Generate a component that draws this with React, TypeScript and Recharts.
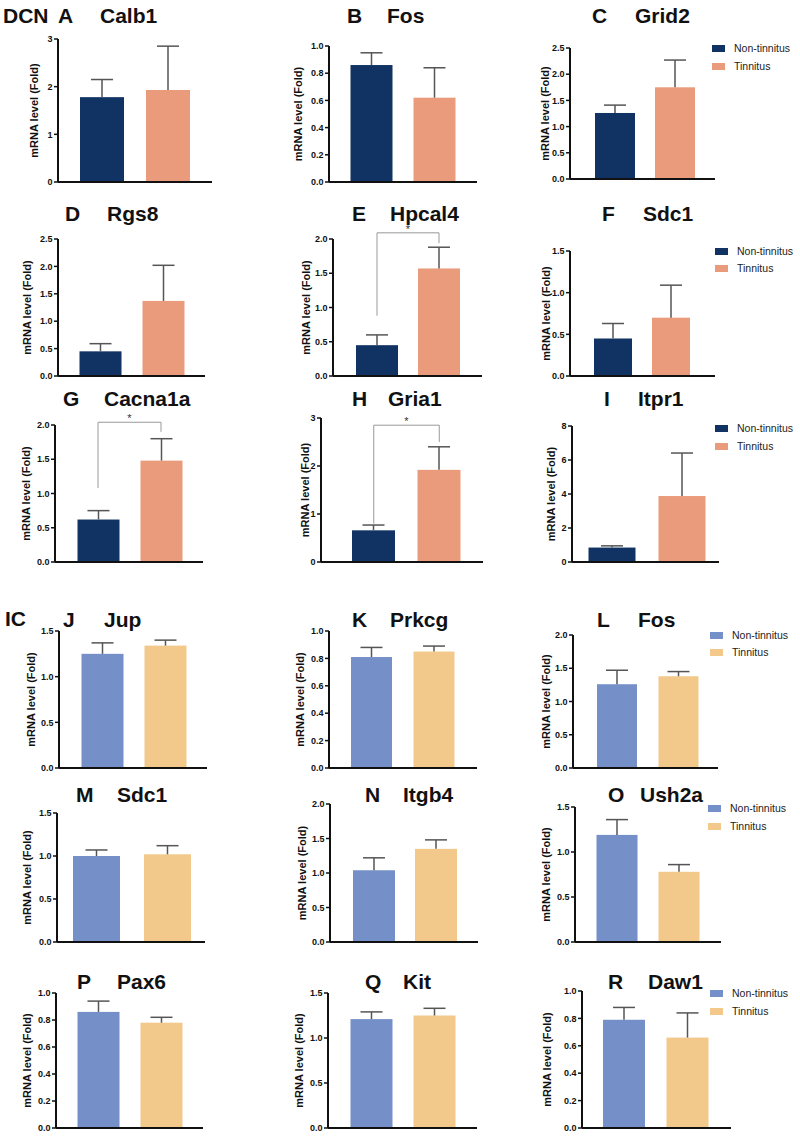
import React from 'react';
import { BarChart, Bar, XAxis, YAxis, Cell, ReferenceLine } from 'recharts';

const groups = ['Non-tinnitus', 'Tinnitus'];
const letters = ['A', 'B', 'C', 'D', 'E', 'F', 'G', 'H', 'I', 'J', 'K', 'L', 'M', 'N', 'O', 'P', 'Q', 'R'];
const genes = ['Calb1', 'Fos', 'Grid2', 'Rgs8', 'Hpcal4', 'Sdc1', 'Cacna1a', 'Gria1', 'Itpr1',
  'Jup', 'Prkcg', 'Fos', 'Sdc1', 'Itgb4', 'Ush2a', 'Pax6', 'Kit', 'Daw1'];

const nonMean = [1.78, 0.86, 1.26, 0.45, 0.45, 0.45, 0.62, 0.66, 0.85, 1.25, 0.81, 1.26, 1.0, 1.04, 1.19, 0.86, 1.21, 0.79];
const nonSem = [0.37, 0.09, 0.15, 0.14, 0.15, 0.18, 0.13, 0.11, 0.1, 0.12, 0.07, 0.21, 0.07, 0.18, 0.17, 0.08, 0.08, 0.09];
const tinMean = [1.93, 0.62, 1.75, 1.37, 1.57, 0.7, 1.48, 1.92, 3.88, 1.34, 0.85, 1.38, 1.02, 1.35, 0.78, 0.78, 1.25, 0.66];
const tinSem = [0.92, 0.22, 0.52, 0.65, 0.31, 0.39, 0.32, 0.48, 2.53, 0.06, 0.04, 0.07, 0.1, 0.13, 0.08, 0.04, 0.08, 0.18];

const yTicks = [
  [0, 1, 2, 3],
  [0, 0.2, 0.4, 0.6, 0.8, 1.0],
  [0, 0.5, 1, 1.5, 2, 2.5],
  [0, 0.5, 1, 1.5, 2, 2.5],
  [0, 0.5, 1, 1.5, 2],
  [0, 0.5, 1, 1.5],
  [0, 0.5, 1, 1.5, 2],
  [0, 1, 2, 3],
  [0, 2, 4, 6, 8],
  [0, 0.5, 1, 1.5],
  [0, 0.2, 0.4, 0.6, 0.8, 1.0],
  [0, 0.5, 1, 1.5, 2],
  [0, 0.5, 1, 1.5],
  [0, 0.5, 1, 1.5, 2],
  [0, 0.5, 1, 1.5],
  [0, 0.2, 0.4, 0.6, 0.8, 1.0],
  [0, 0.5, 1, 1.5],
  [0, 0.2, 0.4, 0.6, 0.8, 1.0],
];
const intTicks = [0, 7, 8];

// significance brackets (panel index, left foot, top, right foot)
const sigPanels = [4, 6, 7];
const sigLeft = [0.88, 1.08, 0.8];
const sigTop = [2.09, 2.04, 2.85];
const sigRight = [1.94, 1.9, 2.5];

const DCN_COLORS = ['#103363', '#e99b7c'];
const IC_COLORS = ['#7590c9', '#f2c98b'];
const FONT = 'Arial, "Liberation Sans", Helvetica, sans-serif';
const INK = '#111';

const YW = 45;
const MT = 25;
const MR = 4;
const MB = 4;
const XH = 2;

// [axisX, top, bottom, right, padL, padR, barW, labelDist, letterX, geneX, titleY]
const layout = [
  [58, 39, 182, 212, 11, 11, 44, 24, 58, 100, 15],
  [329, 46, 182, 477, 10.5, 11.5, 42, 31, 347, 387, 15],
  [570, 48, 179, 715, 15, 10, 40, 25, 592, 635, 15],
  [58, 239, 376, 205, 10.5, 10.5, 42, 31, 65, 107, 213],
  [333, 239, 376, 482, 13, 12, 42, 27, 352, 390, 213],
  [570, 251, 376, 715, 14, 15, 38, 24, 602, 643, 213],
  [55, 425, 562, 203, 11.5, 10.5, 42, 29, 63, 104, 398],
  [321, 418, 562, 483, 20, 11, 43, 16, 352, 388, 398],
  [572, 426, 562, 719, 4.5, 2.5, 47, 21, 604, 638, 398],
  [59, 631, 768, 207, 11.5, 10.5, 42, 28, 63, 104, 619],
  [329, 631, 768, 477, 11, 12, 41, 29, 352, 390, 619],
  [573, 635, 768, 718, 13, 9, 40, 27, 597, 638, 619],
  [57, 813, 942, 205, 4, 2, 47, 30, 76, 117, 794],
  [330, 804, 942, 478, 13, 11, 42, 28, 365, 403, 794],
  [575, 807, 942, 721, 10.5, 11.5, 41, 29, 608, 640, 794],
  [56, 993, 1128, 203, 10.5, 10.5, 42, 29, 77, 117, 981],
  [328, 993, 1128, 477, 11.5, 11.5, 42, 29, 365, 403, 981],
  [582, 991, 1128, 731, 10, 12, 42, 35, 608, 648, 981],
];

// legend: panel index -> [squareX, firstRowY, rowGap]
const legendAt: Record<number, number[]> = {
  2: [712, 48, 18],
  5: [715, 251, 17],
  8: [715, 428, 18],
  11: [710, 635, 17],
  14: [708, 808, 18],
  17: [710, 993, 18],
};

const BarWithError = (props: any) => {
  const { x, y, width, height, fill, payload } = props;
  const px = payload.value ? height / payload.value : 0;
  const ey = y - payload.err * px;
  const cx = x + width / 2;
  return (
    <g>
      <rect x={x} y={y} width={width} height={height} fill={fill} />
      <line x1={cx} x2={cx} y1={ey} y2={y} stroke="#555" strokeWidth={1.5} />
      <line x1={cx - 11} x2={cx + 11} y1={ey} y2={ey} stroke="#555" strokeWidth={1.5} />
    </g>
  );
};

const Panel = ({ i }: { i: number }) => {
  const [ax, top, bot, right, padL, padR, bw, lab] = layout[i];
  const ticks = yTicks[i];
  const max = ticks[ticks.length - 1];
  const colors = i < 9 ? DCN_COLORS : IC_COLORS;
  const data = [
    { group: groups[0], value: nonMean[i], err: nonSem[i] },
    { group: groups[1], value: tinMean[i], err: tinSem[i] },
  ];
  const fmt = (v: number) => (intTicks.includes(i) ? String(v) : v.toFixed(1));
  const w = YW + (right - ax) + MR;
  const h = MT + (bot - top) + XH + MB;
  const s = sigPanels.indexOf(i);
  const bracket = { stroke: '#999', strokeWidth: 1, ifOverflow: 'visible' as const };

  return (
    <div style={{ position: 'absolute', left: ax - YW, top: top - MT }}>
      <BarChart width={w} height={h} data={data} margin={{ top: MT, right: MR, bottom: MB, left: 0 }}>
        <XAxis
          dataKey="group"
          type="category"
          tick={false}
          tickLine={false}
          height={XH}
          padding={{ left: padL, right: padR }}
          axisLine={{ stroke: INK, strokeWidth: 2 }}
        />
        <YAxis
          type="number"
          domain={[0, max]}
          ticks={ticks}
          interval={0}
          tickFormatter={fmt}
          width={YW}
          axisLine={{ stroke: INK, strokeWidth: 2 }}
          tickLine={{ stroke: INK, strokeWidth: 1.5 }}
          tickSize={4}
          tickMargin={1.5}
          tick={{ fontSize: 9, fontWeight: 700, fill: INK, fontFamily: FONT }}
          label={{
            value: 'mRNA level (Fold)',
            angle: -90,
            position: 'insideLeft',
            offset: YW - lab,
            style: { textAnchor: 'middle', fontSize: 11, fontWeight: 700, fill: INK, fontFamily: FONT },
          }}
        />
        <Bar dataKey="value" barSize={bw} isAnimationActive={false} shape={(p: any) => <BarWithError {...p} />}>
          {data.map((d, k) => (
            <Cell key={d.group} fill={colors[k]} />
          ))}
        </Bar>
        {s >= 0 && (
          <ReferenceLine
            segment={[{ x: groups[0], y: sigLeft[s] }, { x: groups[0], y: sigTop[s] }]}
            {...bracket}
          />
        )}
        {s >= 0 && (
          <ReferenceLine
            segment={[{ x: groups[0], y: sigTop[s] }, { x: groups[1], y: sigTop[s] }]}
            {...bracket}
            label={{ value: '*', position: 'top', offset: 0, fill: '#333', fontSize: 11, fontFamily: FONT }}
          />
        )}
        {s >= 0 && (
          <ReferenceLine
            segment={[{ x: groups[1], y: sigTop[s] }, { x: groups[1], y: sigRight[s] }]}
            {...bracket}
          />
        )}
      </BarChart>
    </div>
  );
};

const LegendBox = ({ i }: { i: number }) => {
  const [x, y, gap] = legendAt[i];
  const colors = i < 9 ? DCN_COLORS : IC_COLORS;
  return (
    <div style={{ position: 'absolute', left: x, top: y - gap / 2, fontFamily: FONT, fontSize: 10.5, color: '#222' }}>
      {groups.map((g, k) => (
        <div key={g} style={{ display: 'flex', alignItems: 'center', height: gap }}>
          <span style={{ width: 13, height: 7, background: colors[k], marginRight: 9, display: 'inline-block' }} />
          <span>{g}</span>
        </div>
      ))}
    </div>
  );
};

const titleStyle = (x: number, y: number): React.CSSProperties => ({
  position: 'absolute',
  left: x,
  top: y - 10.3,
  fontSize: 21,
  lineHeight: '21px',
  fontWeight: 700,
  fontFamily: FONT,
  color: INK,
  whiteSpace: 'nowrap',
});

export default function App() {
  return (
    <div style={{ position: 'absolute', left: 0, top: 0, width: 800, height: 1137, background: '#fff', overflow: 'hidden' }}>
      {layout.map((_, i) => (
        <Panel key={`p${i}`} i={i} />
      ))}
      {layout.map((l, i) => (
        <div key={`l${i}`} style={titleStyle(l[8], l[10])}>{letters[i]}</div>
      ))}
      {layout.map((l, i) => (
        <div key={`g${i}`} style={titleStyle(l[9], l[10])}>{genes[i]}</div>
      ))}
      {Object.keys(legendAt).map((k) => (
        <LegendBox key={`lg${k}`} i={Number(k)} />
      ))}
      <div style={titleStyle(3, 15)}>DCN</div>
      <div style={titleStyle(5, 618)}>IC</div>
    </div>
  );
}
